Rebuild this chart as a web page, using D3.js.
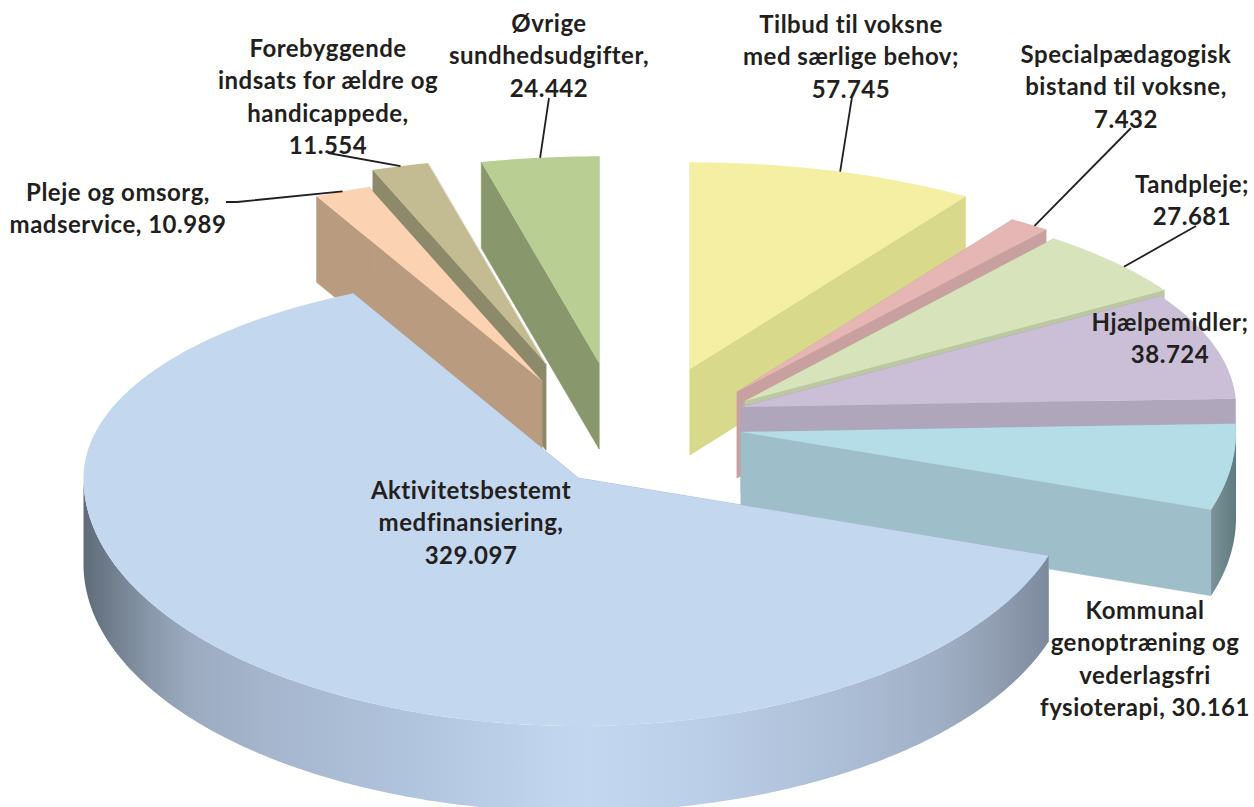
<!DOCTYPE html>
<html>
<head>
<meta charset="utf-8">
<script src="https://cdn.jsdelivr.net/npm/d3@7"></script>
<style>
  html, body { margin: 0; padding: 0; background: #fff; overflow: hidden; }
  svg { display: block; }
</style>
</head>
<body>
<div id="plot"></div>
<script>
// chart values, clockwise from 12 o'clock
const categories = ["Tilbud", "Specialpaedagogisk", "Tandpleje", "Hjaelpemidler", "Kommunal",
    "Aktivitet", "Pleje", "Forebyggende", "Ovrige"];
const values = [57745, 7432, 27681, 38724, 30161, 329097, 10989, 11554, 24442];
const labels = [
    ["Tilbud til voksne", "med særlige behov;", "57.745"],
    ["Specialpædagogisk", "bistand til voksne,", "7.432"],
    ["Tandpleje;", "27.681"],
    ["Hjælpemidler;", "38.724"],
    ["Kommunal", "genoptræning og", "vederlagsfri", "fysioterapi, 30.161"],
    ["Aktivitetsbestemt", "medfinansiering,", "329.097"],
    ["Pleje og omsorg,", "madservice, 10.989"],
    ["Forebyggende", "indsats for ældre og", "handicappede,", "11.554"],
    ["Øvrige", "sundhedsudgifter,", "24.442"]
];

// styles
const top_colors = ["#f4efa2", "#e5b6b4", "#d7e4bb", "#cbbfd8", "#b5dde7", "#c3d7ef", "#fbd3b2", "#c3bb91", "#b9ce93"];
const wall_colors = ["#d8d98b", "#c9a0a0", "#bcc8a2", "#b0a6bb", "#9ebfc9", "#9eb0c8", "#b99b80", "#8c8a6b", "#88986c"];

// layout: where each exploded slice has its tip, on the top face
const slice_tip = [[690, 369], [737, 392], [745, 401], [741, 407], [741, 432], [578.5, 478], [542, 381], [546, 364], [599, 363]];
const label_pos = [[851, 33], [1126, 63], [1192, 193], [1170, 331], [1145, 619], [471, 499], [118, 201], [328, 57], [549, 32]];
const leader_start = [[[852, 97]], [[1131, 128]], [[1196, 226]], null, null, null, [[226, 202], [237, 202]], [[328, 153]], [[549, 98]]];
// how far along the slice rim a leader line lands
const leader_at = [0.54, 0.65, 0.6, 0, 0, 0, 0.5, 0.5, 0.5];
// far to near
const paint_order = [0, 1, 2, 3, 8, 7, 6, 4, 5];

const width = 1254;
const height = 807;
const radius_x = 495;
const radius_y = 248;
const depth = 86;
const perspective = 0.2;

const pie = d3.pie().sort(null).value(d => d)(values);

/**
 * Ground position of an angle on the rim, relative to the tip. The far half shrinks a bit.
 * @param {*} a - angle, clockwise from 12 o'clock
 */
const rim_offset = function (a) {
    const u = Math.sin(a);
    const v = Math.cos(a);
    const s = v > 0 ? 1 / (1 + perspective * v * v) : 1;
    return [radius_x * u * s, -radius_y * v * s];
}

const rim_point = function (i, a, drop = 0) {
    const [dx, dy] = rim_offset(a);
    return [slice_tip[i][0] + dx, slice_tip[i][1] + dy + drop];
}

const arc_points = function (i, a0, a1, drop = 0) {
    const n = Math.max(2, Math.ceil((a1 - a0) / 0.01));
    return d3.range(n + 1).map(k => rim_point(i, a0 + (a1 - a0) * k / n, drop));
}

const path = d3.line();

const svg = d3.select("#plot").append("svg").attr("width", width).attr("height", height);

// rim shading on the big slice and on the Kommunal slice
const defs = svg.append("defs");
const main_tip = slice_tip[5][0];
defs.append("linearGradient")
    .attr("id", "main_rim")
    .attr("gradientUnits", "userSpaceOnUse")
    .attr("x1", main_tip - radius_x).attr("x2", main_tip + radius_x)
    .attr("y1", 0).attr("y2", 0)
    .selectAll("stop")
    .data([
        [0, "#5f6b78"], [0.03, "#717f8f"], [0.07, "#8a99ab"], [0.11, "#9cabc0"], [0.18, "#a4b5cc"],
        [0.32, "#b0c3dc"], [0.47, "#c0d4ed"], [0.51, "#c3d7f0"], [0.62, "#bccfe8"], [0.76, "#adbfd7"],
        [0.86, "#a0b0c6"], [0.92, "#929fb3"], [0.97, "#7f8c9f"], [1, "#6f7b8c"]
    ])
    .join("stop")
    .attr("offset", d => d[0])
    .attr("stop-color", d => d[1]);

defs.append("linearGradient")
    .attr("id", "kommunal_rim")
    .attr("gradientUnits", "userSpaceOnUse")
    .attr("x1", slice_tip[4][0] + radius_x * 0.95).attr("x2", slice_tip[4][0] + radius_x)
    .attr("y1", 0).attr("y2", 0)
    .selectAll("stop")
    .data([[0, "#7b9399"], [1, "#607a80"]])
    .join("stop")
    .attr("offset", d => d[0])
    .attr("stop-color", d => d[1]);

const rim_fill = { 4: "url(#kommunal_rim)", 5: "url(#main_rim)" };

const slices = svg.append("g");

paint_order.forEach(i => {
    const d = pie[i];
    const g = slices.append("g").attr("class", "slice").attr("data-name", categories[i]);
    const tip = slice_tip[i];
    const tip_low = [tip[0], tip[1] + depth];

    // the two cut walls
    [d.startAngle, d.endAngle].forEach(a => {
        g.append("path")
            .attr("d", path([tip, rim_point(i, a), rim_point(i, a, depth), tip_low]) + "Z")
            .attr("fill", wall_colors[i])
            .attr("stroke", wall_colors[i])
            .attr("stroke-width", 0.5);
    });

    // outer rim, only the part that faces the viewer
    const r0 = Math.max(d.startAngle, Math.PI / 2);
    const r1 = Math.min(d.endAngle, Math.PI * 1.5);
    if (r1 > r0) {
        const upper = arc_points(i, r0, r1);
        const lower = arc_points(i, r0, r1, depth).reverse();
        g.append("path")
            .attr("d", path(upper.concat(lower)) + "Z")
            .attr("fill", rim_fill[i] || wall_colors[i]);
    }

    // top face
    g.append("path")
        .attr("d", path([tip].concat(arc_points(i, d.startAngle, d.endAngle))) + "Z")
        .attr("fill", top_colors[i]);

    // thin white seam beside the Ovrige wall
    if (categories[i] === "Forebyggende") {
        g.append("path")
            .attr("d", path([tip, rim_point(i, d.endAngle)]))
            .attr("fill", "none")
            .attr("stroke", "#fff")
            .attr("stroke-width", 0.8);
    }
});

// leader lines run to a point on the slice rim
svg.append("g")
    .attr("fill", "none")
    .attr("stroke", "#231f20")
    .attr("stroke-width", 1.8)
    .selectAll("path")
    .data(pie.map((d, i) => ({ d, i })).filter(e => leader_start[e.i]))
    .join("path")
    .attr("d", e => path(leader_start[e.i].concat([
        rim_point(e.i, e.d.startAngle + (e.d.endAngle - e.d.startAngle) * leader_at[e.i])
    ])));

svg.append("g")
    .attr("font-family", "Lato, 'Open Sans', sans-serif")
    .attr("font-weight", 700)
    .attr("font-size", 24)
    .attr("letter-spacing", "0.5px")
    .attr("fill", "#231f20")
    .attr("text-anchor", "middle")
    .selectAll("text")
    .data(labels)
    .join("text")
    .attr("transform", (d, i) => `translate(${label_pos[i][0]},${label_pos[i][1]})`)
    .selectAll("tspan")
    .data(d => d)
    .join("tspan")
    .attr("x", 0)
    .attr("y", (d, k) => k * 32.4)
    .text(d => d);
</script>
</body>
</html>
